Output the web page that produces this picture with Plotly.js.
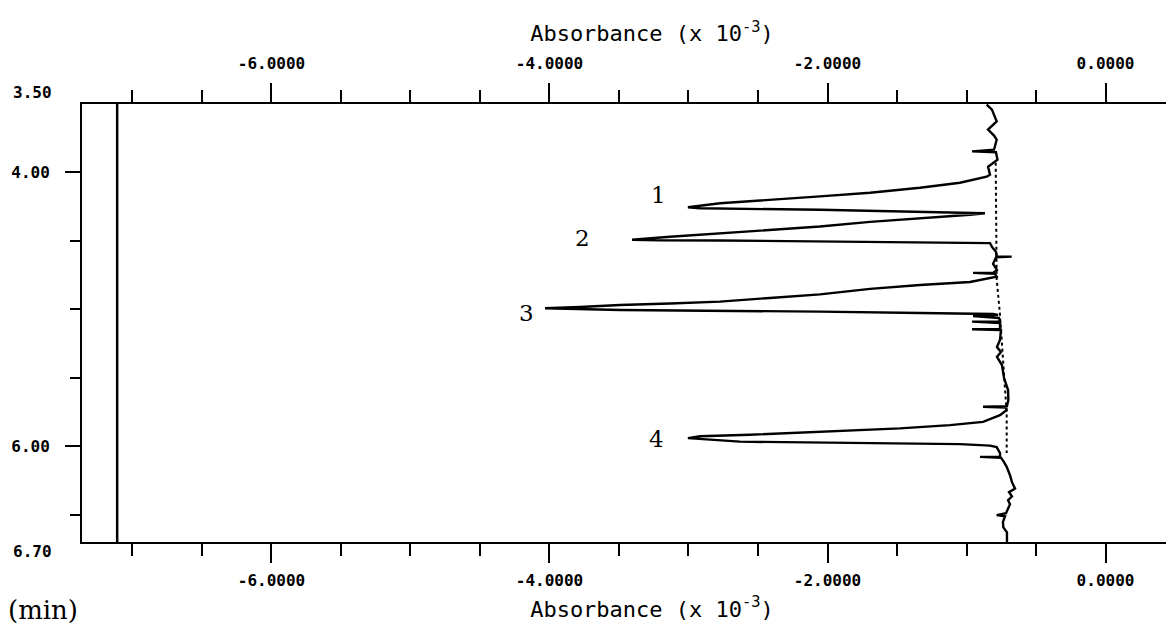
<!DOCTYPE html>
<html><head><meta charset="utf-8">
<script src="https://cdn.plot.ly/plotly-3.0.1.min.js"></script>
<style>
html,body{margin:0;padding:0;overflow:hidden;background:#fff;width:1166px;height:633px}
#chart{width:1230px;height:633px}
</style>
</head><body><div id="chart"></div>
<script>
// Chromatogram trace: absorbance (x 10^-3) vs retention time (min)
const absorbance = [
 -0.855,-0.817,-0.783,-0.845,-0.802,-0.783,-0.802,-0.960,-0.788,-0.777,-0.845,-0.831,
 -0.855,-1.047,-1.335,-1.694,-2.054,-2.414,-2.773,-3.004,
 -2.917,-2.054,-1.335,-1.025,-0.867,-0.975,
 -1.335,-1.694,-2.054,-2.414,-2.773,-3.133,-3.406,
 -3.205,-2.773,-1.817,-1.119,-0.831,
 -0.817,-0.788,-0.783,-0.675,-0.788,-0.809,-0.781,-0.809,-0.953,-0.795,-0.783,
 -0.975,-1.335,-1.694,-2.054,-2.414,-2.773,-3.133,-3.493,-3.781,-4.032,
 -3.493,-2.773,-2.054,-1.335,-0.809,
 -0.773,-0.953,-0.766,-0.759,-0.960,-0.759,-0.759,-0.960,-0.752,
 -0.759,-0.781,-0.752,-0.781,-0.745,-0.730,-0.701,-0.699,
 -0.709,-0.881,-0.716,-0.711,
 -0.759,-0.881,-1.119,-1.478,-1.838,-2.198,-2.558,-2.917,-3.004,
 -2.630,-2.054,-1.478,-1.047,-0.831,-0.783,-0.759,
 -0.759,-0.903,-0.752,-0.730,-0.711,-0.687,-0.673,-0.651,-0.694,-0.673,-0.701,-0.687,-0.699,-0.716,
 -0.783,-0.723,-0.738,-0.735,-0.709,-0.711,-0.709
];
const timeMin = [
 3.504,3.541,3.627,3.687,3.731,3.761,3.834,3.846,3.852,3.907,3.958,4.017,
 4.031,4.075,4.112,4.148,4.175,4.200,4.225,4.254,
 4.262,4.273,4.285,4.293,4.298,4.309,
 4.334,4.361,4.395,4.419,4.445,4.470,4.492,
 4.496,4.497,4.505,4.511,4.516,
 4.544,4.580,4.615,4.615,4.620,4.668,4.712,4.734,4.734,4.741,4.761,
 4.800,4.822,4.851,4.891,4.917,4.944,4.957,4.968,4.983,4.992,
 5.005,5.010,5.017,5.027,5.034,
 5.041,5.049,5.063,5.090,5.090,5.100,5.144,5.146,5.151,
 5.224,5.275,5.312,5.348,5.407,5.502,5.590,5.663,
 5.707,5.712,5.718,5.736,
 5.773,5.822,5.846,5.870,5.886,5.902,5.916,5.927,5.941,
 5.967,5.974,5.980,5.985,5.996,6.007,6.051,
 6.077,6.078,6.084,6.116,6.151,6.212,6.263,6.309,6.336,6.366,6.395,6.424,6.453,6.490,
 6.504,6.512,6.555,6.593,6.629,6.673,6.700
];
// Dotted integration baseline
const baselineAbs  = [-0.790,-0.786,-0.783,-0.760,-0.725,-0.711,-0.711];
const baselineTime = [3.930, 4.500, 4.780, 5.030, 5.500, 5.760, 6.050];
// Peak labels
const peakNames = ['1','2','3','4'];
const peakLabelAbs  = [-3.219,-3.759,-4.162,-3.227];
const peakLabelTime = [4.163, 4.478, 5.027, 5.949];
// Vertical reference line near left edge
const refLineAbs = [-7.11,-7.11];
const refLineTime = [3.5, 6.7];
// Axis ticks
const xTickVals = [-6,-4,-2,0];
const xTickText = ['-6.0000','-4.0000','-2.0000','0.0000'];
const xMinorVals = [-7,-6.5,-5.5,-5,-4.5,-3.5,-3,-2.5,-1.5,-1,-0.5,0.5];
const yTickVals = [4,6];
const yTickText = ['4.00','6.00'];
const yMinorVals = [4.5,5,5.5,6.5];
const yEndVals = [3.5,6.7];
const yEndText = ['3.50','6.70'];
const xRange = [-7.363, 0.838];
const yRange = [6.7, 3.5];

const tickFont = {family:'DejaVu Sans Mono', size:16, color:'#000', weight:'bold'};
const titleFont = {family:'DejaVu Sans Mono', size:22, color:'#000'};
const titleText = 'Absorbance (x 10<sup>-3</sup>)';

const traces = [
  {x:absorbance, y:timeMin, type:'scatter', mode:'lines', line:{color:'#000', width:2.4}, hoverinfo:'x+y'},
  {x:baselineAbs, y:baselineTime, type:'scatter', mode:'lines', line:{color:'#000', width:2, dash:'dot'}},
  {x:refLineAbs, y:refLineTime, type:'scatter', mode:'lines', line:{color:'#000', width:2.5}},
  {x:[], y:[], xaxis:'x2', type:'scatter', mode:'lines'}
];

function xAxis(side, standoff, titleStandoff) {
  return {
    side:side, range:xRange, tickmode:'array', tickvals:xTickVals, ticktext:xTickText,
    ticks:'outside', ticklen:19, tickwidth:2, tickcolor:'#000',
    minor:{tickmode:'array', tickvals:xMinorVals, ticks:'outside', ticklen:12, tickwidth:2, tickcolor:'#000', showgrid:false},
    showline:true, linecolor:'#000', linewidth:2, showgrid:false, zeroline:false,
    tickfont:tickFont, ticklabelstandoff:standoff,
    title:{text:titleText, font:titleFont, standoff:titleStandoff}
  };
}

const annotations = [];
for (let i = 0; i < peakNames.length; i++) {
  annotations.push({x:peakLabelAbs[i], y:peakLabelTime[i], xref:'x', yref:'y', text:peakNames[i],
    showarrow:false, font:{family:'DejaVu Serif', size:23, color:'#000'}});
}
annotations.push({x:0, y:yEndVals[0], xref:'paper', yref:'y', text:yEndText[0], showarrow:false,
  xanchor:'right', yanchor:'middle', xshift:-28, yshift:12, font:tickFont});
annotations.push({x:0, y:yEndVals[1], xref:'paper', yref:'y', text:yEndText[1], showarrow:false,
  xanchor:'right', yanchor:'middle', xshift:-28, yshift:-9, font:tickFont});
annotations.push({x:0, y:0, xref:'paper', yref:'paper', text:'(min)', showarrow:false,
  xanchor:'left', yanchor:'middle', xshift:-76, yshift:-68, font:{family:'DejaVu Serif', size:26, color:'#000'}});

const x2 = xAxis('top', 8, 6);
x2.overlaying = 'x';
x2.matches = 'x';

const layout = {
  width:1230, height:633,
  margin:{l:82, r:8, t:104, b:91},
  paper_bgcolor:'#fff', plot_bgcolor:'#fff',
  showlegend:false,
  xaxis:xAxis('bottom', 4, 12),
  xaxis2:x2,
  yaxis:{range:yRange, tickmode:'array', tickvals:yTickVals, ticktext:yTickText,
    ticks:'outside', ticklen:15, tickwidth:2, tickcolor:'#000',
    minor:{tickmode:'array', tickvals:yMinorVals, ticks:'outside', ticklen:10, tickwidth:2, tickcolor:'#000', showgrid:false},
    showline:true, linecolor:'#000', linewidth:2, showgrid:false, zeroline:false,
    tickfont:tickFont, ticklabelstandoff:12},
  annotations:annotations
};

Plotly.newPlot('chart', traces, layout, {displayModeBar:false, staticPlot:true});
</script>
</body></html>
